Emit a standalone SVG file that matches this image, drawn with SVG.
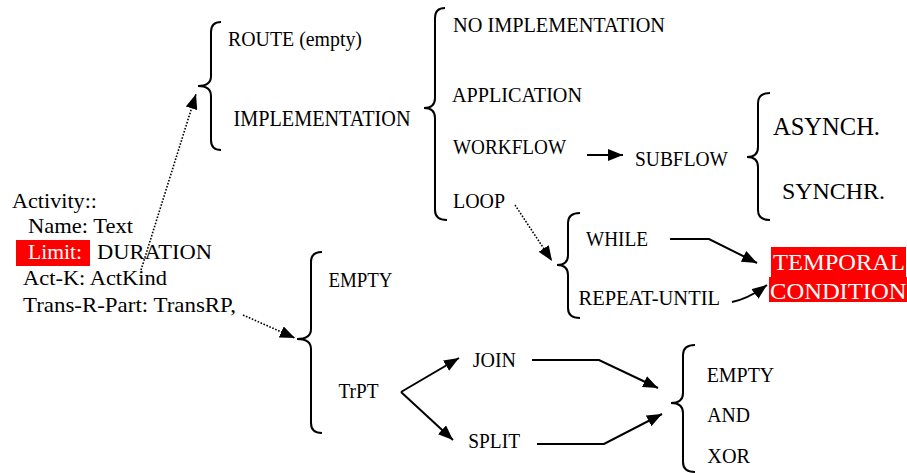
<svg xmlns="http://www.w3.org/2000/svg" width="907" height="473" viewBox="0 0 907 473" font-family="'Liberation Serif', 'Times New Roman', serif">
<defs>
<style>
text{font-family:'Liberation Serif','Times New Roman',serif;fill:#000}
.w{fill:#fff}
.br{fill:none;stroke:#000;stroke-width:2}
.ln{fill:none;stroke:#000;stroke-width:2;marker-end:url(#ah)}
.dt{fill:none;stroke:#000;stroke-width:1.6;stroke-dasharray:1.6 1.6;marker-end:url(#ah)}
</style>
<marker id="ah" markerUnits="userSpaceOnUse" markerWidth="15" markerHeight="12" refX="15" refY="6" orient="auto" viewBox="0 0 15 12">
<path d="M0,0 L15,6 L0,12 z" fill="#000"/>
</marker>
</defs>
<rect width="907" height="473" fill="#fff"/>

<g id="activity">
<rect x="16" y="240" width="74" height="26" fill="#f00"/>
<text x="12" y="208" font-size="22" textLength="85" lengthAdjust="spacingAndGlyphs">Activity::</text>
<text x="28" y="233" font-size="22" textLength="105" lengthAdjust="spacingAndGlyphs">Name: Text</text>
<text class="w" x="28" y="259" font-size="22" textLength="54" lengthAdjust="spacingAndGlyphs">Limit:</text>
<text x="97" y="259" font-size="22" textLength="115" lengthAdjust="spacingAndGlyphs">DURATION</text>
<text x="23" y="285" font-size="22" textLength="144" lengthAdjust="spacingAndGlyphs">Act-K: ActKind</text>
<text x="23" y="311.5" font-size="22" textLength="213" lengthAdjust="spacingAndGlyphs">Trans-R-Part: TransRP,</text>
</g>

<g id="route-impl">
<path class="br" d="M221,22 Q211,22 211,32 L211,76 Q211,86 198,86 Q211,86 211,96 L211,140 Q211,150 221,150"/>
<text x="228" y="45.5" font-size="20" textLength="134" lengthAdjust="spacingAndGlyphs">ROUTE (empty)</text>
<text x="233.5" y="125.5" font-size="23" textLength="177" lengthAdjust="spacingAndGlyphs">IMPLEMENTATION</text>
</g>

<g id="impl-kinds">
<path class="br" d="M445,8 Q435,8 435,18 L435,98 Q435,108 424,108 Q435,108 435,118 L435,210 Q435,220 447,220"/>
<text x="453" y="32" font-size="21" textLength="212" lengthAdjust="spacingAndGlyphs">NO IMPLEMENTATION</text>
<text x="452" y="101.5" font-size="21.5" textLength="130" lengthAdjust="spacingAndGlyphs">APPLICATION</text>
<text x="453" y="154" font-size="21" textLength="113" lengthAdjust="spacingAndGlyphs">WORKFLOW</text>
<text x="453" y="208.3" font-size="20" textLength="52" lengthAdjust="spacingAndGlyphs">LOOP</text>
</g>

<g id="subflow">
<text x="635" y="166" font-size="21" textLength="93" lengthAdjust="spacingAndGlyphs">SUBFLOW</text>
</g>

<g id="sync-kinds">
<path class="br" d="M770,93 Q758,93 758,103 L758,147 Q758,157 747,157 Q758,157 758,167 L758,210 Q758,220 770,220"/>
<text x="773" y="134.5" font-size="24.5" textLength="107" lengthAdjust="spacingAndGlyphs">ASYNCH.</text>
<text x="782" y="198.5" font-size="24" textLength="103" lengthAdjust="spacingAndGlyphs">SYNCHR.</text>
</g>

<g id="loop-kinds">
<path class="br" d="M580,213 Q568,213 568,223 L568,255 Q568,265 557,265 Q568,265 568,275 L568,308 Q568,318 580,318"/>
<text x="586" y="246" font-size="20" textLength="62" lengthAdjust="spacingAndGlyphs">WHILE</text>
<text x="578.5" y="305" font-size="20" textLength="141.5" lengthAdjust="spacingAndGlyphs">REPEAT-UNTIL</text>
</g>

<g id="temporal">
<rect x="771" y="247" width="135" height="31" fill="#f00"/>
<rect x="769" y="277" width="138" height="25" fill="#f00"/>
<text class="w" x="773" y="269.5" font-size="23.5" textLength="132" lengthAdjust="spacingAndGlyphs">TEMPORAL</text>
<text class="w" x="770" y="298.5" font-size="23.5" textLength="136.5" lengthAdjust="spacingAndGlyphs">CONDITION</text>
</g>

<g id="trans">
<path class="br" d="M322,252 Q311,252 311,262 L311,329 Q311,339 297,339 Q311,339 311,349 L311,423 Q311,433 322,433"/>
<text x="328.5" y="286.7" font-size="20" textLength="64" lengthAdjust="spacingAndGlyphs">EMPTY</text>
<text x="338.5" y="398.3" font-size="20" textLength="40" lengthAdjust="spacingAndGlyphs">TrPT</text>
</g>

<g id="join">
<text x="472.7" y="366.7" font-size="20" textLength="43.3" lengthAdjust="spacingAndGlyphs">JOIN</text>
</g>
<g id="split">
<text x="468.3" y="448.3" font-size="21" textLength="51.7" lengthAdjust="spacingAndGlyphs">SPLIT</text>
</g>

<g id="gate-kinds">
<path class="br" d="M695,345 Q683,345 683,355 L683,393 Q683,403 671,403 Q683,403 683,413 L683,462 Q683,472 695,472"/>
<text x="706.7" y="381.7" font-size="20" textLength="67.6" lengthAdjust="spacingAndGlyphs">EMPTY</text>
<text x="707.3" y="421.7" font-size="20" textLength="42.7" lengthAdjust="spacingAndGlyphs">AND</text>
<text x="707.3" y="463.3" font-size="20" textLength="42.7" lengthAdjust="spacingAndGlyphs">XOR</text>
</g>

<g id="connectors">
<path class="dt" d="M141,270 L196,94"/>
<path class="dt" d="M243,315 L295,338"/>
<path class="dt" d="M515,205 L552,261"/>
<path class="ln" d="M587,155 L623,155"/>
<path class="ln" d="M401,392 L459,358"/>
<path class="ln" d="M401,392 L453,440"/>
<path class="ln" d="M532,360 L599,360 L658,388"/>
<path class="ln" d="M537,444 L604,444 L662,414"/>
<path class="ln" d="M670,239 L709,239 L757,263"/>
<path class="ln" d="M732,302 Q748,299 767,285"/>
</g>
</svg>
